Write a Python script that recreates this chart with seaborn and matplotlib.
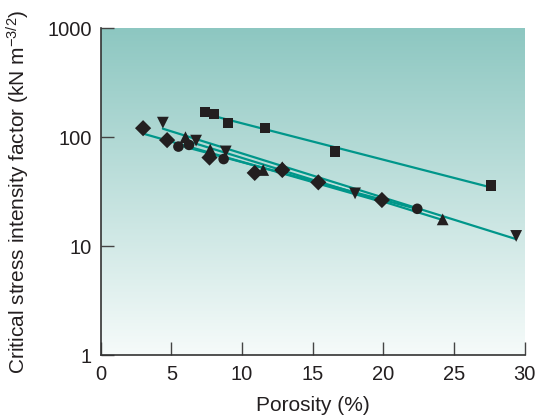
import numpy as np
import pandas as pd
import matplotlib
matplotlib.use("Agg")
import matplotlib.pyplot as plt
import matplotlib.colors as mcolors
import seaborn as sns

# ---- data ----
diamond_x = [3.0, 4.7, 7.7, 10.9, 12.85, 15.4, 19.9]
diamond_y = [121, 94, 65, 47, 50, 38.5, 26.5]

circle_x = [5.5, 6.25, 8.7, 22.4]
circle_y = [82, 85, 63, 22]

triup_x = [6.0, 7.75, 11.5, 12.85, 24.2]
triup_y = [100, 77, 50, 53, 17.6]

tridown_x = [4.4, 6.75, 8.85, 18.0, 29.4]
tridown_y = [136, 93, 74, 30.5, 12.4]

square_x = [7.4, 8.0, 9.0, 11.6, 16.6, 27.6]
square_y = [171, 164, 136, 121, 74, 36]

x_ticks = [0, 5, 10, 15, 20, 25, 30]
y_ticks = [1, 10, 100, 1000]
y_tick_labels = ["1", "10", "100", "1000"]

series = [
    ("diamond", diamond_x, diamond_y, "D"),
    ("circle", circle_x, circle_y, "o"),
    ("triup", triup_x, triup_y, "^"),
    ("tridown", tridown_x, tridown_y, "v"),
    ("square", square_x, square_y, "s"),
]

frames = []
for name, xs, ys, m in series:
    frames.append(pd.DataFrame({"porosity": xs, "k": ys, "group": name}))
df = pd.concat(frames, ignore_index=True)

sns.set_style("ticks")
plt.rcParams["font.family"] = ["Liberation Sans", "DejaVu Sans"]
plt.rcParams["mathtext.default"] = "regular"

fig = plt.figure(figsize=(5.37, 4.16), dpi=100)
ax = fig.add_axes([0.1875, 0.1466, 0.7895, 0.7854])

# gradient background
top = np.array(mcolors.to_rgb("#8dc7c1"))
bot = np.array(mcolors.to_rgb("#f6fbfa"))
t = np.linspace(0, 1, 256)[:, None]
grad = (top[None, :] * (1 - t) + bot[None, :] * t)[:, None, :]
ax.imshow(grad, extent=[0, 1, 0, 1], transform=ax.transAxes,
          aspect="auto", zorder=0, interpolation="bicubic")

line_color = "#00968a"
for name, xs, ys, m in series:
    xs_a = np.array(xs)
    coef = np.polyfit(xs_a, np.log10(ys), 1)
    xx = np.array([xs_a.min(), xs_a.max()])
    yy = 10 ** np.polyval(coef, xx)
    sns.lineplot(x=xx, y=yy, ax=ax, color=line_color, lw=1.6, zorder=2)

sizes = {"diamond": 68, "circle": 58, "triup": 72, "tridown": 72, "square": 54}
for name, xs, ys, m in series:
    sub = df[df.group == name]
    sns.scatterplot(data=sub, x="porosity", y="k", marker=m, s=sizes[name],
                    color="#231f20", edgecolor="none", ax=ax, zorder=3)

ax.set_yscale("log")
ax.set_xlim(0, 30)
ax.set_ylim(1, 1000)
ax.set_xticks(x_ticks)
ax.set_xticklabels([str(v) for v in x_ticks])
ax.set_yticks(y_ticks)
ax.set_yticklabels(y_tick_labels)
ax.yaxis.set_minor_locator(matplotlib.ticker.NullLocator())

ax.tick_params(axis="both", which="major", direction="in", length=9.5,
               width=1.0, color="#444444", labelsize=14.5,
               labelcolor="#231f20")
ax.tick_params(axis="x", pad=7)
ax.tick_params(axis="y", pad=6.5)
for s in ["top", "right"]:
    ax.spines[s].set_visible(False)
for s in ["left", "bottom"]:
    ax.spines[s].set_color("#333333")
    ax.spines[s].set_linewidth(1.2)

ax.set_xlabel("Porosity (%)", fontsize=15, color="#231f20", labelpad=9)
ax.set_ylabel(r"Critical stress intensity factor (kN m$^{-3/2}$)",
              fontsize=15, color="#231f20", labelpad=11)

fig.savefig("out.png", dpi=100)
